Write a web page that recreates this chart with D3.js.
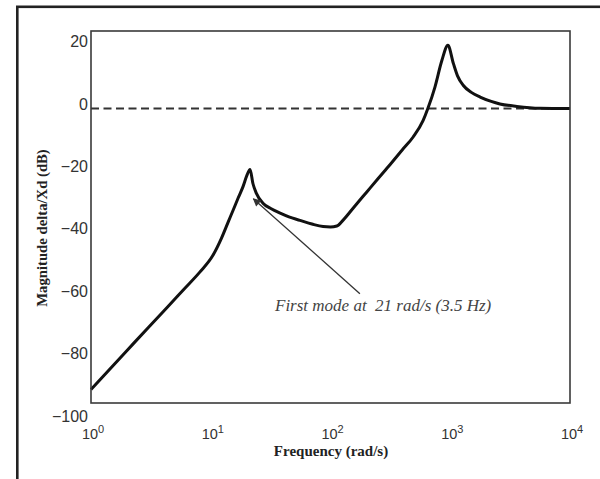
<!DOCTYPE html>
<html>
<head>
<meta charset="utf-8">
<script src="https://cdn.jsdelivr.net/npm/d3@7"></script>
<style>
  html, body { margin: 0; padding: 0; background: #fff; }
  svg { display: block; }
</style>
</head>
<body>
<svg id="chart" width="600" height="479"></svg>
<script>
// ---- data ----
const freq = [1, 2, 3, 4.3, 6, 8.1, 10.4, 12.3, 14, 15.4, 17, 18.6, 20, 21.3,
  22.5, 24, 27.3, 32, 38, 45, 55.6, 70, 86.7, 100, 113, 127, 160, 201, 250,
  315, 400, 490, 594, 650, 745, 851, 956, 1063, 1150, 1287, 1500, 1777, 2200,
  2600, 3600, 5600, 10000];
const magnitude = [-91.5, -79, -71.7, -65.3, -59.3, -53.9, -48.6, -43, -37.8, -34, -30, -26.5, -23, -21,
  -25.5, -28.6, -31.8, -33.6, -35, -36.2, -37.3, -38.5, -39.3, -39.4, -39.1, -37.3, -32.7, -28.2, -23.9,
  -19.4, -14.6, -10.6, -5.3, -1.5, 5.4, 13.9, 18.8, 12.9, 9, 5.9, 3.7, 2.2, 0.8,
  0, -0.8, -1.4, -1.5];
const referenceLevel = -1.5;          // dashed line (dB)
const xTicks = [1, 10, 100, 1000, 10000];
const xTickExponents = ["0", "1", "2", "3", "4"];
const yTicks = [20, 0, -20, -40, -60, -80, -100];
const annotationText = "First mode at  21 rad/s (3.5 Hz)";
const arrowFrom = [176, -60.8];       // [rad/s, dB]
const arrowTo = [22.7, -30.4];
const annotationAnchor = [34.4, -66.3];
const xTitle = "Frequency (rad/s)";
const yTitle = "Magnitude delta/Xd (dB)";

// ---- layout ----
const svg = d3.select("#chart");
const plot = { left: 91, right: 570, top: 31, bottom: 403 };

const x = d3.scaleLog().domain([1, 10000]).range([plot.left, plot.right]);
const y = d3.scaleLinear().domain([-100, 20]).range([416, 41.5]);

// outer frame (only top/left visible within the picture)
svg.append("rect")
  .attr("x", 17.3).attr("y", 6.8)
  .attr("width", 700).attr("height", 600)
  .attr("fill", "none").attr("stroke", "#222").attr("stroke-width", 2.6);

// defs: arrow head
svg.append("defs").append("marker")
  .attr("id", "arrowhead")
  .attr("viewBox", "0 0 10 10")
  .attr("refX", 9).attr("refY", 5)
  .attr("markerWidth", 9).attr("markerHeight", 8)
  .attr("markerUnits", "userSpaceOnUse")
  .attr("orient", "auto")
  .append("path").attr("d", "M0,0 L10,5 L0,10 Z").attr("fill", "#333");

// reference dashed line
svg.append("line")
  .attr("x1", plot.left).attr("x2", plot.right)
  .attr("y1", y(referenceLevel)).attr("y2", y(referenceLevel))
  .attr("stroke", "#333").attr("stroke-width", 2)
  .attr("stroke-dasharray", "8,4.5");

// curve
const pts = freq.map((f, i) => [f, magnitude[i]]);
const line = d3.line().x(d => x(d[0])).y(d => y(d[1])).curve(d3.curveMonotoneX);
svg.append("path")
  .datum(pts)
  .attr("d", line)
  .attr("fill", "none")
  .attr("stroke", "#111")
  .attr("stroke-width", 3)
  .attr("stroke-linejoin", "round");

// plot frame
svg.append("rect")
  .attr("x", plot.left).attr("y", plot.top)
  .attr("width", plot.right - plot.left).attr("height", plot.bottom - plot.top)
  .attr("fill", "none").attr("stroke", "#3a3a3a").attr("stroke-width", 1.6);

// y axis labels
const yAxis = d3.axisLeft(y).tickValues(yTicks).tickSize(0).tickPadding(3);
const gy = svg.append("g").attr("transform", `translate(${plot.left},0)`).call(yAxis);
gy.select(".domain").remove();
gy.selectAll("text")
  .attr("font-family", "'Liberation Sans', Arial, sans-serif")
  .attr("font-size", 16)
  .attr("fill", "#333");

// x axis labels with superscript exponents
const xAxis = d3.axisBottom(x).tickValues(xTicks).tickSize(0).tickFormat("");
const gx = svg.append("g").attr("transform", `translate(0,${plot.bottom})`).call(xAxis);
gx.select(".domain").remove();
gx.selectAll(".tick text").remove();
gx.selectAll(".tick").each(function(d, i) {
  const t = d3.select(this).append("text")
    .attr("x", 1.5).attr("y", 36)
    .attr("text-anchor", "middle")
    .attr("font-family", "'Liberation Sans', Arial, sans-serif")
    .attr("font-size", 14.5)
    .attr("fill", "#333");
  t.append("tspan").text("10");
  t.append("tspan").attr("dy", -6.5).attr("font-size", 11).text(xTickExponents[i]);
});

// axis titles
svg.append("text")
  .attr("x", 331).attr("y", 456)
  .attr("text-anchor", "middle")
  .attr("font-family", "'Liberation Serif', 'Times New Roman', serif")
  .attr("font-weight", "bold")
  .attr("font-size", 15)
  .attr("fill", "#222")
  .text(xTitle);

svg.append("text")
  .attr("transform", "translate(47,228) rotate(-90)")
  .attr("text-anchor", "middle")
  .attr("font-family", "'Liberation Serif', 'Times New Roman', serif")
  .attr("font-weight", "bold")
  .attr("font-size", 14.7)
  .attr("fill", "#222")
  .text(yTitle);

// annotation
svg.append("line")
  .attr("x1", x(arrowFrom[0])).attr("y1", y(arrowFrom[1]))
  .attr("x2", x(arrowTo[0])).attr("y2", y(arrowTo[1]))
  .attr("stroke", "#333").attr("stroke-width", 1.3)
  .attr("marker-end", "url(#arrowhead)");

svg.append("text")
  .attr("x", x(annotationAnchor[0])).attr("y", y(annotationAnchor[1]))
  .attr("font-family", "'Liberation Serif', 'Times New Roman', serif")
  .attr("font-style", "italic")
  .attr("font-size", 17)
  .attr("fill", "#444")
  .attr("xml:space", "preserve")
  .style("white-space", "pre")
  .text(annotationText);
</script>
</body>
</html>
